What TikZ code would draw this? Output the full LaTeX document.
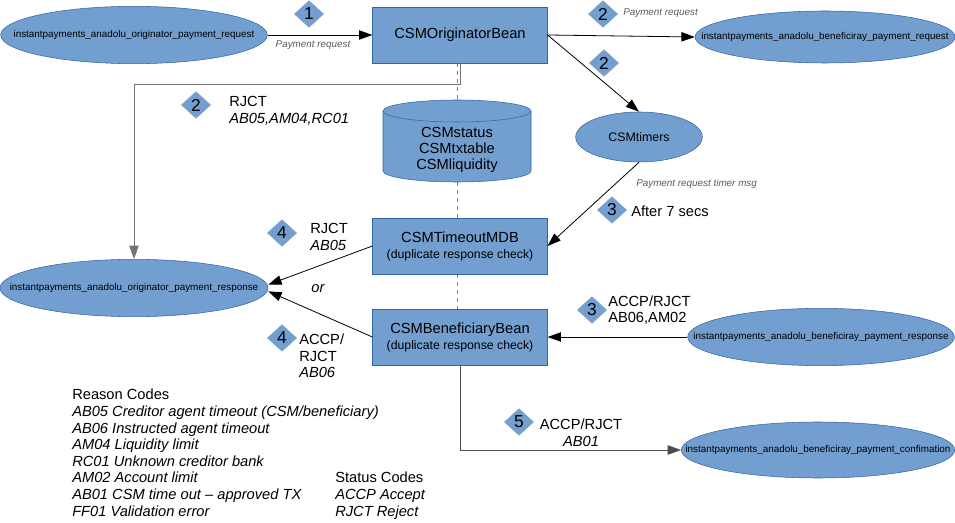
\documentclass[tikz,border=0pt]{standalone}
\usepackage{fontspec}
\setmainfont{Liberation Sans}
\usepackage{xcolor}
\usetikzlibrary{shapes.geometric,arrows.meta,backgrounds}
\definecolor{beanblue}{HTML}{729FCF}
\definecolor{beanedge}{HTML}{3465A4}

\begin{document}
\begin{tikzpicture}[x=0.75pt,y=-0.75pt,
    bean/.style={draw=beanedge,fill=beanblue,minimum width=131pt,minimum height=42pt,inner sep=0pt,align=center,font=\fontsize{11}{13}\selectfont},
    queue/.style={ellipse,draw=beanedge,fill=beanblue,inner sep=0pt},
    qname/.style={font=\fontsize{7.4}{9}\selectfont},
    stepno/.style={diamond,draw=beanedge!60,fill=beanblue,minimum width=22pt,minimum height=20pt,inner sep=0pt,font=\fontsize{13}{13}\selectfont},
    msg/.style={font=\fontsize{7.4}{9}\selectfont\itshape,text=black!65,inner sep=0pt},
    lbl/.style={font=\fontsize{11}{12.5}\selectfont,align=left,inner sep=0pt},
    flow/.style={-{Triangle[length=10pt,width=7pt]},line width=0.6pt},
  ]
    \useasboundingbox (0,0) rectangle (955,523);

    \node[queue,minimum width=200pt,minimum height=43pt,label={[qname]center:instantpayments\_anadolu\_originator\_payment\_request}] (origreq) at (134,35) {};
    \node[bean] (origbean) at (460,35) {CSMOriginatorBean};
    \node[queue,minimum width=195pt,minimum height=39pt,label={[qname]center:instantpayments\_anadolu\_beneficiray\_payment\_request}] (benreq) at (825,37) {};
    \node[queue,minimum width=95pt,minimum height=37.5pt,font=\fontsize{9.3}{11}\selectfont] (timers) at (639,137) {CSMtimers};

    \filldraw[fill=beanblue,draw=beanedge] (383,111) -- (383,171) arc[start angle=180,end angle=360,x radius=55.5pt,y radius=8.25pt] -- (531,111) arc[start angle=0,end angle=180,x radius=55.5pt,y radius=8.25pt] -- cycle;
    \draw[beanedge] (383,111) arc[start angle=180,end angle=360,x radius=55.5pt,y radius=8.25pt];
    \node[lbl,align=center,font=\fontsize{11}{12}\selectfont] (db) at (457,150) {CSMstatus\\CSMtxtable\\CSMliquidity};
    \coordinate (dbtop) at (457,100);
    \coordinate (dbbot) at (457,182);

    \node[bean] (timeout) at (460,246) {CSMTimeoutMDB\\[-1pt]{\fontsize{9.2}{11}\selectfont(duplicate response check)}};
    \node[bean] (benbean) at (460,337) {CSMBeneficiaryBean\\[-1pt]{\fontsize{9.2}{11}\selectfont(duplicate response check)}};

    \node[queue,minimum width=201pt,minimum height=43pt,label={[qname]center:instantpayments\_anadolu\_originator\_payment\_response}] (origresp) at (134,288) {};
    \node[queue,minimum width=200pt,minimum height=43pt,label={[qname]center:instantpayments\_anadolu\_beneficiray\_payment\_response}] (benresp) at (821,337) {};
    \node[queue,minimum width=205pt,minimum height=42pt,label={[qname]center:instantpayments\_anadolu\_beneficiray\_payment\_confimation}] (benconf) at (818,450) {};

    \begin{scope}[on background layer]
        \draw[black!50,dashed,line width=0.6pt] (origbean.south -| dbtop) -- (dbtop);
        \draw[black!50,dashed,line width=0.6pt] (dbbot) -- (timeout.north -| dbbot);
        \draw[black!50,dashed,line width=0.6pt] (timeout.south -| dbbot) -- (benbean.north -| dbbot);
    \end{scope}

    \draw[flow] (origreq.east) -- (origbean.west);
    \draw[flow] (origbean.east) -- (benreq.west);
    \draw[flow] (origbean.east) -- (timers.north);
    \draw[flow] (timers.south) -- (timeout.east);
    \draw[flow,black!55] (origbean.south) -- ++(0,21) -| (origresp.north);
    \draw[flow] (timeout.west) -- ([yshift=2.5pt]origresp.east);
    \draw[flow] (benbean.west) -- ([yshift=-2.5pt]origresp.east);
    \draw[flow] (benresp.west) -- (benbean.east);
    \draw[flow,black!70] (benbean.south) |- (benconf.west);

    \node[stepno] (s1) at (309,14) {1};
    \node[msg] (msg1) at (313,45) {Payment request};
    \node[stepno] (s2a) at (603,14) {2};
    \node[msg,anchor=west] (msg2) at (623,13) {Payment request};
    \node[stepno] (s2b) at (604,63) {2};
    \node[stepno] (s2c) at (196,105) {2};
    \node[lbl,anchor=west] (rjct2) at (229,111) {RJCT\\\textit{AB05,AM04,RC01}};
    \node[msg,anchor=west] (timermsg) at (636,184) {Payment request timer msg};
    \node[stepno] (s3a) at (612,210) {3};
    \node[lbl,anchor=west] (after) at (631,211) {After 7 secs};
    \node[stepno] (s4a) at (282,233) {4};
    \node[lbl,anchor=west] (rjct4) at (310,237) {RJCT\\\textit{AB05}};
    \node[lbl,font=\fontsize{11}{12.5}\selectfont\itshape] (or) at (318,289) {or};
    \node[stepno] (s4b) at (282,338) {4};
    \node[lbl,anchor=west] (accp4) at (299,356) {ACCP/\\RJCT\\\textit{AB06}};
    \node[stepno] (s3b) at (592,310) {3};
    \node[lbl,anchor=west] (accp3) at (608,310) {ACCP/RJCT\\AB06,AM02};
    \node[stepno] (s5) at (519,422) {5};
    \node[lbl,align=center] (accp5) at (581,433) {ACCP/RJCT\\\textit{AB01}};

    \node[lbl,anchor=north west,font=\fontsize{11}{12.45}\selectfont] (reasons) at (72,389) {Reason Codes\\
        \textit{AB05 Creditor agent timeout (CSM/beneficiary)}\\
        \textit{AB06 Instructed agent timeout}\\
        \textit{AM04 Liquidity limit}\\
        \textit{RC01 Unknown creditor bank}\\
        \textit{AM02 Account limit}\\
        \textit{AB01 CSM time out -- approved TX}\\
        \textit{FF01 Validation error}};
    \node[lbl,anchor=north west,font=\fontsize{11}{12.45}\selectfont] (status) at (335,472) {Status Codes\\
        \textit{ACCP Accept}\\
        \textit{RJCT Reject}};
\end{tikzpicture}
\end{document}
